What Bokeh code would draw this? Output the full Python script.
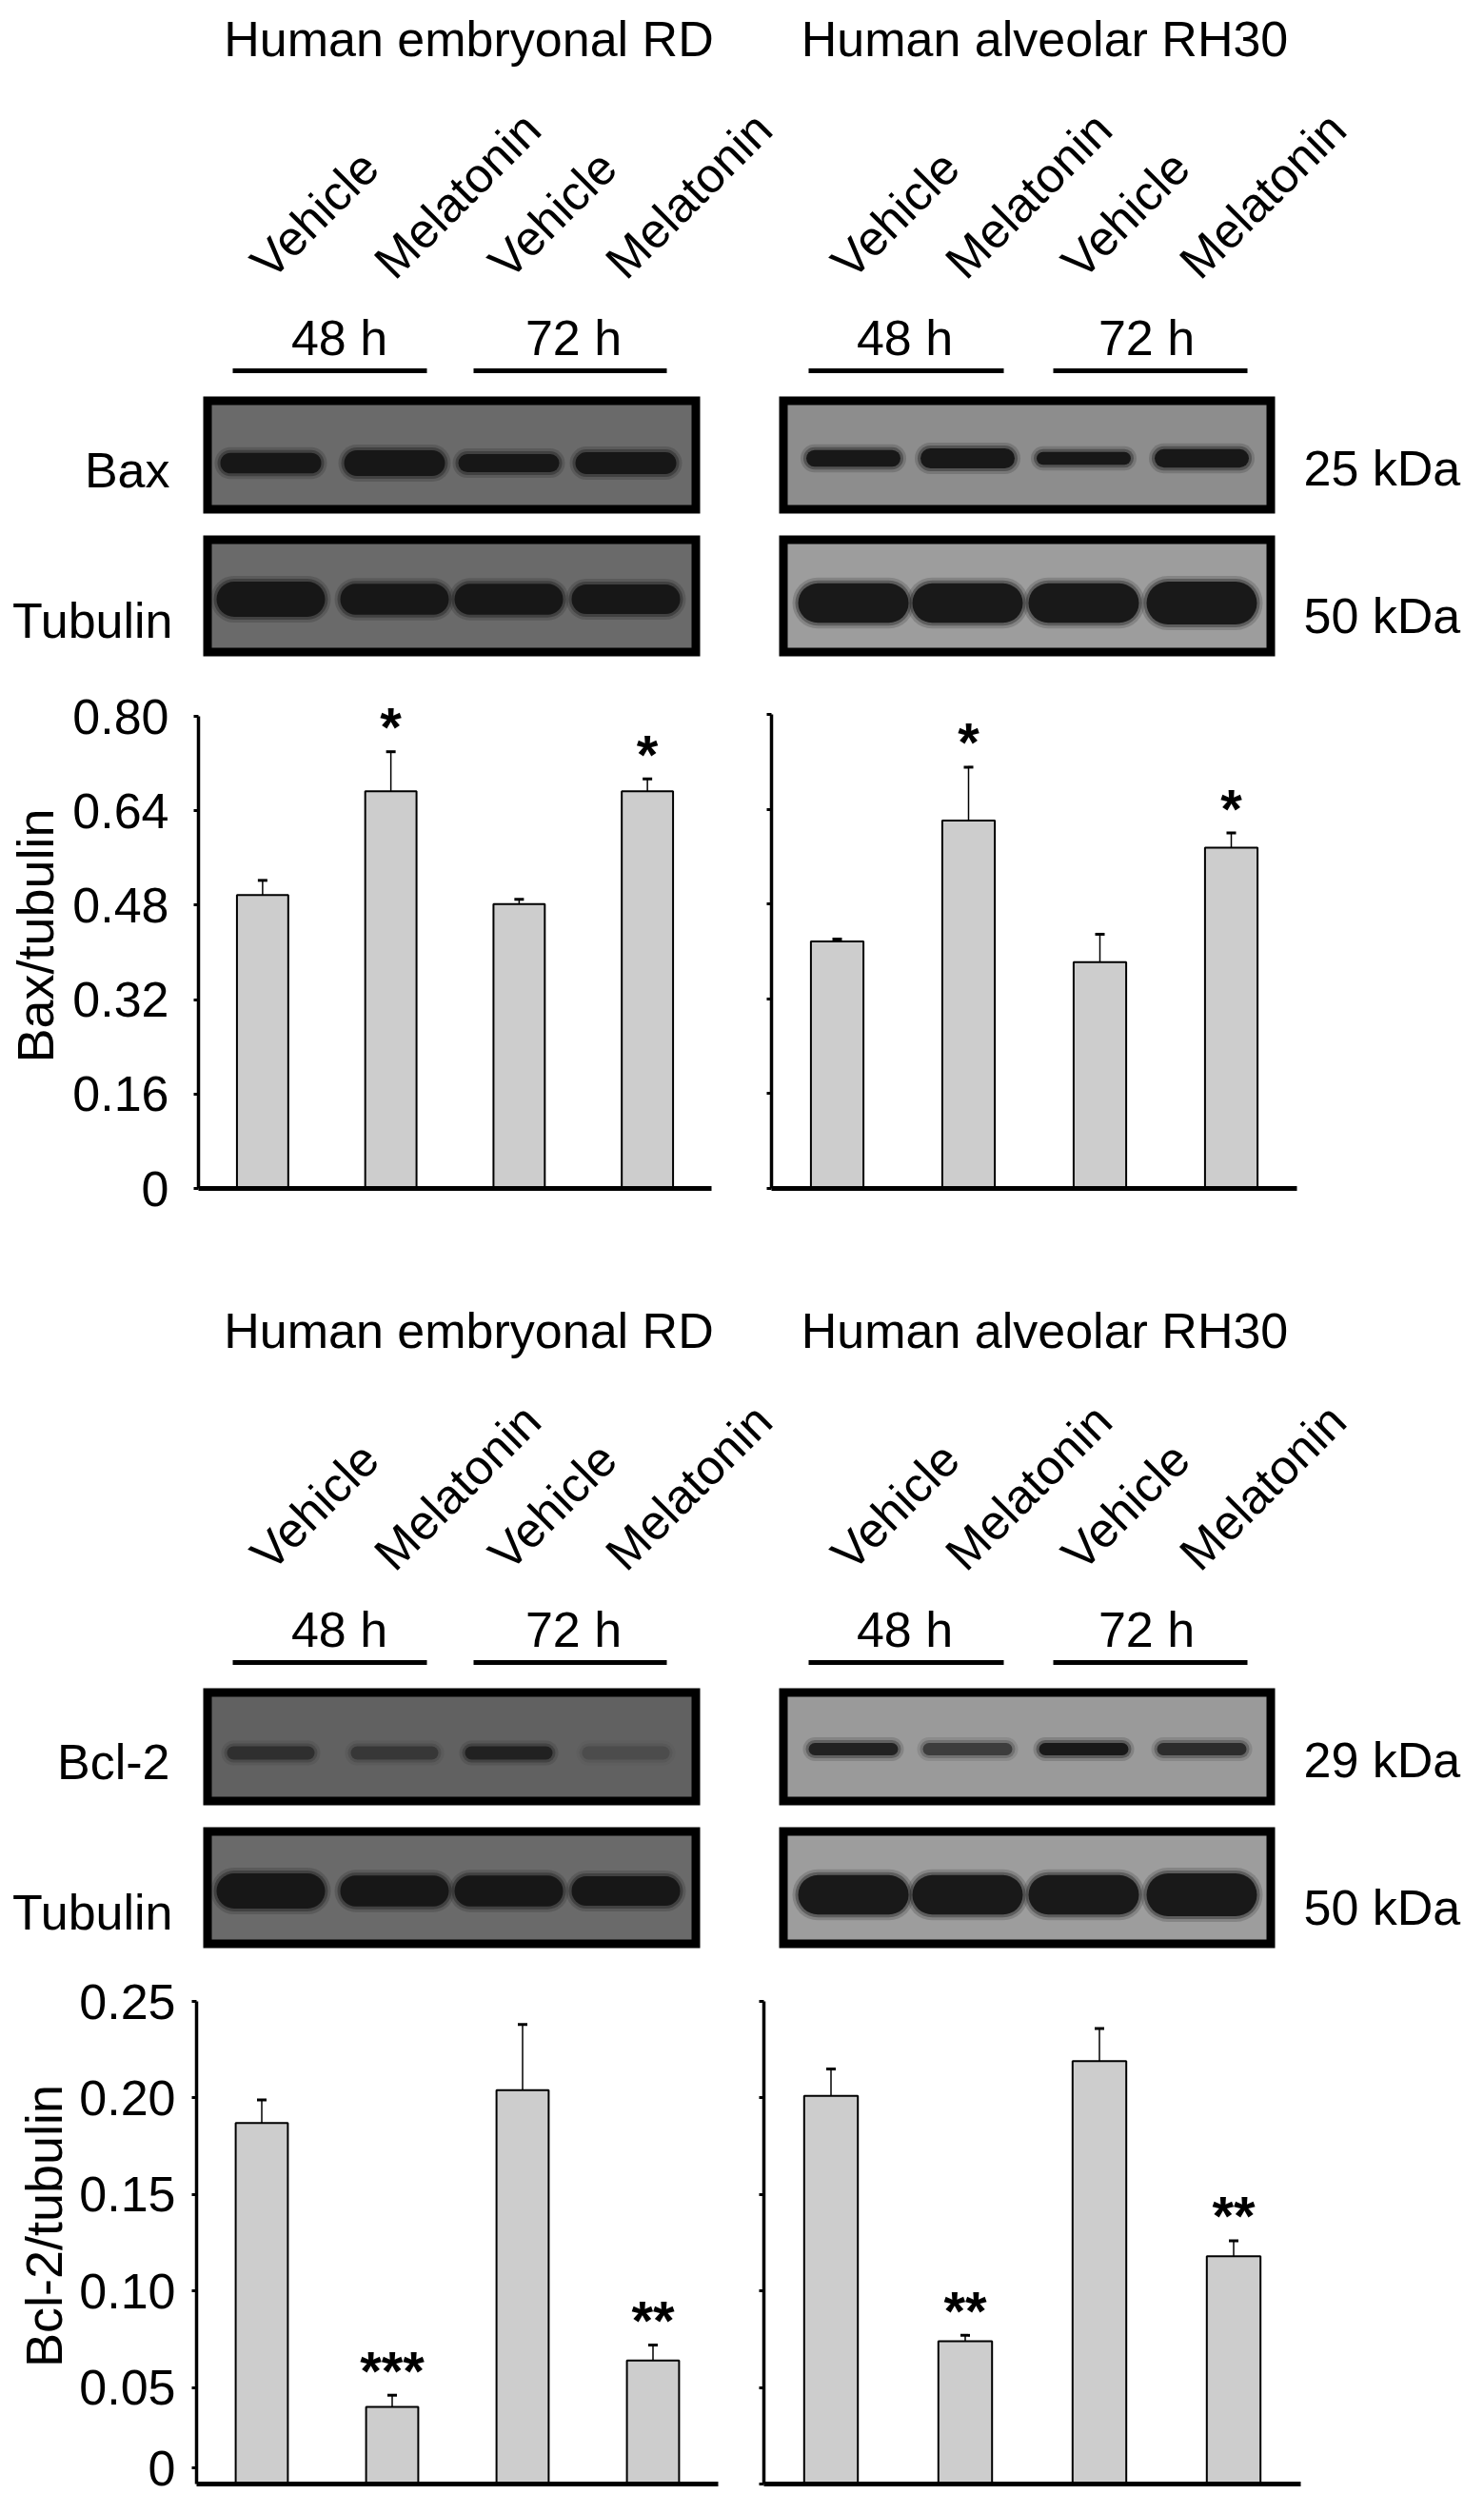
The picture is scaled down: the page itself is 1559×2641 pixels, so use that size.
import numpy as np
from bokeh.plotting import figure
from bokeh.layouts import column, row
from bokeh.models import (Range1d, FactorRange, ColumnDataSource, Whisker, TeeHead,
                          FixedTicker, CustomJSTickFormatter)
from bokeh.core.properties import value
from bokeh.embed import file_html
from bokeh.resources import INLINE

FONT = "Liberation Sans"
PAGE_W = 1543
M = 8

# ---------------- data ----------------
categories = ["Vehicle 48 h", "Melatonin 48 h", "Vehicle 72 h", "Melatonin 72 h"]
lane_labels = ["Vehicle", "Melatonin", "Vehicle", "Melatonin"]
time_labels = ["48 h", "72 h"]
cell_lines = ["Human embryonal RD", "Human alveolar RH30"]

bax_rd_mean = [0.497, 0.673, 0.482, 0.673]
bax_rd_err = [0.025, 0.067, 0.008, 0.021]
bax_rd_sig = ["", "*", "", "*"]
bax_rh30_mean = [0.417, 0.621, 0.382, 0.575]
bax_rh30_err = [0.004, 0.090, 0.047, 0.025]
bax_rh30_sig = ["", "*", "", "*"]

bcl2_rd_mean = [0.187, 0.040, 0.204, 0.064]
bcl2_rd_err = [0.012, 0.006, 0.034, 0.008]
bcl2_rd_sig = ["", "***", "", "**"]
bcl2_rh30_mean = [0.201, 0.074, 0.219, 0.118]
bcl2_rh30_err = [0.014, 0.003, 0.017, 0.008]
bcl2_rh30_sig = ["", "**", "", "**"]

bax_ticks = [0, 0.16, 0.32, 0.48, 0.64, 0.80]
bax_tick_labels = ["0", "0.16", "0.32", "0.48", "0.64", "0.80"]
bcl2_ticks = [0, 0.05, 0.10, 0.15, 0.20, 0.25]
bcl2_tick_labels = ["0", "0.05", "0.10", "0.15", "0.20", "0.25"]

# relative band strengths read from the blots (lanes in category order)
bax_rd_bands = [0.80, 1.00, 0.70, 0.85]
bax_rh30_bands = [0.80, 0.95, 0.62, 0.88]
bcl2_rd_bands = [0.50, 0.40, 0.70, 0.18]
bcl2_rh30_bands = [0.80, 0.55, 0.95, 0.70]
tub_rd_bands = [1.00, 0.88, 0.88, 0.84]
tub_rh30_bands = [0.92, 0.92, 0.92, 1.00]

# ---------------- layout geometry (reference page pixels) ----------------
SIDE = {
    "left": dict(title_x=500, lanes=[292, 422, 542, 665], box=(221, 743),
                 time_x=[364, 610], lines=[(252, 456), (505, 708)], lab_dx=-12),
    "right": dict(title_x=1105, lanes=[904, 1024, 1146, 1270], box=(826, 1347),
                  time_x=[958, 1212], lines=[(857, 1062), (1114, 1318)], lab_dx=-14),
}
BORDER = 9
TXT_DY = -10   # baseline correction for horizontal texts


def txt(p, x, y, t, size="52px", align="center", angle=0.0, style="normal"):
    dy = TXT_DY if angle == 0.0 else 0
    p.text(x=x, y=[v + dy for v in y], text=t, angle=angle, text_font=value(FONT),
           text_font_size=value(size), text_font_style=style, text_align=align,
           text_baseline="alphabetic", text_color="black")


def bands(p, centers, y, strengths, length, base_t, faint=False):
    s = np.array(strengths, dtype=float)
    c = np.array(centers, dtype=float)
    t = np.full(4, base_t, dtype=float) if faint else base_t * s
    a = np.clip(s * 1.1, 0, 1) if faint else np.ones(4)
    half = (length - t) / 2.0
    x0, x1 = c - half, c + half
    yy = np.full(4, y, dtype=float)
    for extra, al in ((12, 0.18), (6, 0.35), (0, 0.92)):
        p.segment(x0=x0, y0=yy, x1=x1, y1=yy, line_width=t + extra, line_alpha=a * al,
                  line_color="#141414", line_cap="round")


def blot_panel(y_top, height, dy, prot_name, prot_kda, prot_bands, prot_len, prot_t,
               prot_bg, prot_y, faint):
    p = figure(width=PAGE_W, height=height, x_range=Range1d(M, M + PAGE_W),
               y_range=Range1d(y_top + height, y_top), output_backend="svg",
               toolbar_location=None, min_border=0, x_axis_type=None, y_axis_type=None,
               title=None)
    p.outline_line_color = None
    tub_bands = {"left": tub_rd_bands, "right": tub_rh30_bands}
    tub_bg = {"left": "#6a6a6a", "right": "#9d9d9d"}
    tub_len = {"left": 114, "right": 116}
    tub_t = {"left": 37, "right": 45}
    tub_y = {"left": 637, "right": 641}
    for k, side in enumerate(["left", "right"]):
        g = SIDE[side]
        txt(p, [g["title_x"]], [58 + dy], [cell_lines[k]])
        txt(p, [c + g["lab_dx"] for c in g["lanes"]], [291 + dy] * 4, lane_labels,
            size="51px", align="left", angle=np.pi / 4)
        txt(p, g["time_x"], [372 + dy] * 2, time_labels)
        p.segment(x0=[a for a, b in g["lines"]], x1=[b for a, b in g["lines"]],
                  y0=[397 + dy] * 2, y1=[397 + dy] * 2, line_width=5, line_color="black")
        L, R = g["box"]
        for (top, bot, bg) in ((424 + dy, 547 + dy, prot_bg[side]), (570 + dy, 697 + dy, tub_bg[side])):
            p.quad(left=[L], right=[R], top=[top], bottom=[bot], fill_color="black", line_color=None)
            p.quad(left=[L + BORDER], right=[R - BORDER], top=[top + BORDER], bottom=[bot - BORDER],
                   fill_color=bg, line_color=None)
        bands(p, g["lanes"], prot_y[side] + dy, prot_bands[side], prot_len[side], prot_t[side],
              faint=faint)
        bands(p, g["lanes"], tub_y[side] + dy, tub_bands[side], tub_len[side], tub_t[side])
    txt(p, [186], [511 + dy], [prot_name], align="right")
    txt(p, [189], [669 + dy], ["Tubulin"], align="right")
    txt(p, [1377], [509 + dy], [prot_kda], align="left")
    txt(p, [1377], [664 + dy], ["50 kDa"], align="left")
    return p


def bar_chart(width, height, ml, mr, mt, mb, means, errs, sig, ticks, tick_labels, top_px,
              ylabel=None, label_standoff=26, ylabel_standoff=21, raise_zero=0):
    frame_h = height - mt - mb
    ymax = ticks[-1]
    yend = ymax * frame_h / top_px
    p = figure(width=width, height=height, x_range=FactorRange(*categories),
               y_range=Range1d(0, yend), output_backend="svg", toolbar_location=None,
               min_border_left=ml, min_border_right=mr, min_border_top=mt, min_border_bottom=mb,
               title=None)
    p.outline_line_color = None
    p.grid.visible = False
    px = yend / frame_h
    upper = [m + e for m, e in zip(means, errs)]
    lower = [m - e for m, e in zip(means, errs)]
    src = ColumnDataSource(dict(cat=categories, mean=means, upper=upper, lower=lower, sig=sig,
                                sig_y=[u + 26 * px for u in upper]))
    p.vbar(x="cat", top="mean", width=0.4, source=src, fill_color="#cdcdcd",
           line_color="black", line_width=2)
    w = Whisker(source=src, base="cat", upper="upper", lower="lower", line_width=1.5,
                line_color="black",
                upper_head=TeeHead(size=10, line_width=3, line_color="black"),
                lower_head=TeeHead(size=10, line_width=3, line_color="black"))
    p.add_layout(w)
    p.text(x="cat", y="sig_y", text="sig", source=src, text_font=value(FONT),
           text_font_style="bold", text_font_size=value("58px"), text_align="center",
           text_baseline="alphabetic", text_color="black")
    xa = p.xaxis[0]
    xa.axis_line_width = 5
    xa.axis_line_color = "black"
    xa.major_tick_line_color = None
    xa.major_tick_out = 0
    xa.major_tick_in = 0
    xa.minor_tick_line_color = None
    xa.major_label_text_color = None
    xa.major_label_text_font_size = "0px"
    # the reference lifts the "0" label a little so that it stays inside the page
    tick_pos = list(ticks)
    if raise_zero:
        tick_pos[0] = ticks[0] + raise_zero * px
    ya = p.yaxis[0]
    ya.ticker = FixedTicker(ticks=tick_pos, minor_ticks=[])
    ya.formatter = CustomJSTickFormatter(
        args=dict(tvals=tick_pos, tlabels=tick_labels),
        code=("const i = tvals.findIndex(t => Math.abs(t - tick) < 1e-9);"
              "return i >= 0 ? tlabels[i] : '';"))
    ya.bounds = (0, ymax)
    ya.axis_line_width = 3.5
    ya.axis_line_color = "black"
    ya.major_tick_out = 5
    ya.major_tick_in = 0
    ya.major_tick_line_width = 3
    ya.minor_tick_line_color = None
    ya.major_label_text_font = FONT
    ya.major_label_text_font_size = "52px"
    ya.major_label_text_color = "black"
    ya.major_label_standoff = label_standoff
    if ylabel:
        ya.axis_label = ylabel
        ya.axis_label_text_font = FONT
        ya.axis_label_text_font_size = "54px"
        ya.axis_label_text_font_style = "normal"
        ya.axis_label_text_color = "black"
        ya.axis_label_standoff = ylabel_standoff
    else:
        ya.major_label_text_color = None
        ya.major_label_text_font_size = "0px"
    return p


# top half
blot_a = blot_panel(8, 692, 0, "Bax", "25 kDa",
                    {"left": bax_rd_bands, "right": bax_rh30_bands},
                    {"left": 106, "right": 99}, {"left": 27, "right": 22},
                    {"left": "#6a6a6a", "right": "#8d8d8d"}, {"left": 494, "right": 489}, False)
bar_tl = bar_chart(770, 630, 208, 23, 25, 74, bax_rd_mean, bax_rd_err, bax_rd_sig,
                   bax_ticks, bax_tick_labels, 496, ylabel="Bax/tubulin", label_standoff=26,
                   ylabel_standoff=6)
bar_tr = bar_chart(773, 630, 40, 181, 25, 74, bax_rh30_mean, bax_rh30_err, bax_rh30_sig,
                   bax_ticks, bax_tick_labels, 498)

# bottom half
blot_b = blot_panel(700 + 630, 726, 1357, "Bcl-2", "29 kDa",
                    {"left": bcl2_rd_bands, "right": bcl2_rh30_bands},
                    {"left": 92, "right": 94}, {"left": 14, "right": 13},
                    {"left": "#616161", "right": "#9a9a9a"}, {"left": 492, "right": 488}, True)
bar_bl = bar_chart(770, 575, 206, 16, 19, 14, bcl2_rd_mean, bcl2_rd_err, bcl2_rd_sig,
                   bcl2_ticks, bcl2_tick_labels, 507, ylabel="Bcl-2/tubulin", label_standoff=17,
                   ylabel_standoff=4, raise_zero=17)
bar_br = bar_chart(773, 575, 32, 177, 19, 14, bcl2_rh30_mean, bcl2_rh30_err, bcl2_rh30_sig,
                   bcl2_ticks, bcl2_tick_labels, 507)

layout = column(blot_a, row(bar_tl, bar_tr, spacing=0), blot_b, row(bar_bl, bar_br, spacing=0),
                spacing=0)

open("out.html", "w").write(file_html(layout, INLINE))
